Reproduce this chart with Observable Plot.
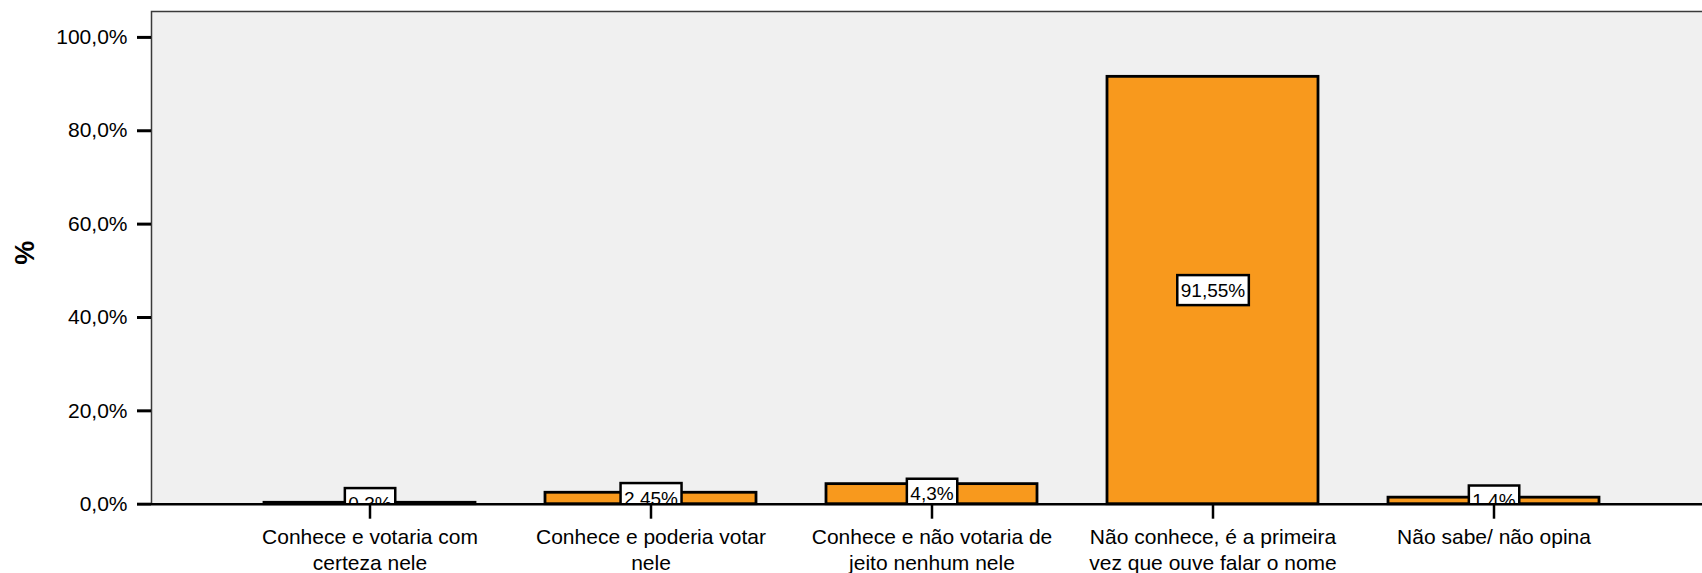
<!DOCTYPE html>
<html><head><meta charset="utf-8">
<script src="https://cdn.jsdelivr.net/npm/d3@7"></script>
<script src="https://cdn.jsdelivr.net/npm/@observablehq/plot@0.6"></script>
<style>
html,body{margin:0;padding:0;background:#fff;overflow:hidden}
#wrap{width:1702px;height:573px;overflow:hidden}
</style></head><body><div id="wrap"></div>
<script>
const categories = ["Conhece e votaria com certeza nele", "Conhece e poderia votar nele", "Conhece e não votaria de jeito nenhum nele", "Não conhece, é a primeira vez que ouve falar o nome", "Não sabe/ não opina"];
const tickLabels = ["Conhece e votaria com\ncerteza nele", "Conhece e poderia votar\nnele", "Conhece e não votaria de\njeito nenhum nele", "Não conhece, é a primeira\nvez que ouve falar o nome", "Não sabe/ não opina"];
const values = [0.3, 2.45, 4.3, 91.55, 1.4];
const valueLabels = ["0,3%", "2,45%", "4,3%", "91,55%", "1,4%"];
const yTicks = [0, 20, 40, 60, 80, 100];
const yLabel = "%";

const data = categories.map((c, i) => ({cat: c, value: values[i], label: valueLabels[i], tick: tickLabels[i]}));

const chart = Plot.plot({
  width: 1716, height: 573,
  marginLeft: 151, marginRight: 2, marginTop: 11, marginBottom: 69.3,
  style: {fontFamily: "'Liberation Sans', Arial, sans-serif", color: "#000", background: "#fff", maxWidth: "none"},
  x: {domain: categories, range: [228.3, 1635.3], paddingInner: 0.25, paddingOuter: 0.125, axis: null},
  y: {domain: [0, 100], range: [503.7, 36.9], axis: null},
  marks: [
    Plot.frame({fill: "#f0f0f0", stroke: "#3a3a3a", strokeWidth: 1.5}),
    Plot.barY(data, {x: "cat", y: "value", fill: "#f8991d", stroke: "#000", strokeWidth: 2.8}),
    Plot.text(data, {x: "cat", y: d => d.value / 2, text: "label", fontSize: 19, fill: "#000", clip: true, ariaLabel: "value-labels"}),
    Plot.ruleY([0], {stroke: "#000", strokeWidth: 2.5}),
    Plot.axisY(yTicks, {tickSize: 14, tickPadding: 10, tickFormat: d => d.toFixed(1).replace(".", ",") + "%", fontSize: 21, strokeWidth: 3, label: null, fill: "#000"}),
    Plot.axisX({tickSize: 15, tickFormat: () => "", strokeWidth: 2.5, label: null}),
    Plot.text(data, {x: "cat", frameAnchor: "bottom", text: "tick", lineAnchor: "top", dy: 21, fontSize: 21, lineHeight: 1.24, fill: "#000"}),
    Plot.text([yLabel], {frameAnchor: "left", text: d => d, dx: -126, dy: 7, rotate: -90, fontSize: 27, fontWeight: "bold", fill: "#000"})
  ]
});
document.getElementById("wrap").appendChild(chart);

const labelSet = new Set(valueLabels);
chart.querySelectorAll("text").forEach(t => {
  if (!labelSet.has(t.textContent.trim())) return;
  const b = t.getBBox();
  const r = document.createElementNS("http://www.w3.org/2000/svg", "rect");
  r.setAttribute("x", b.x - 3.5);
  r.setAttribute("y", b.y - 4.5);
  r.setAttribute("width", b.width + 7);
  r.setAttribute("height", b.height + 9);
  r.setAttribute("fill", "#fff");
  r.setAttribute("stroke", "#000");
  r.setAttribute("stroke-width", 2.5);
  const tr = t.getAttribute("transform");
  if (tr) r.setAttribute("transform", tr);
  const cp = t.getAttribute("clip-path");
  if (cp) r.setAttribute("clip-path", cp);
  t.parentNode.insertBefore(r, t);
});
</script>
</body></html>
